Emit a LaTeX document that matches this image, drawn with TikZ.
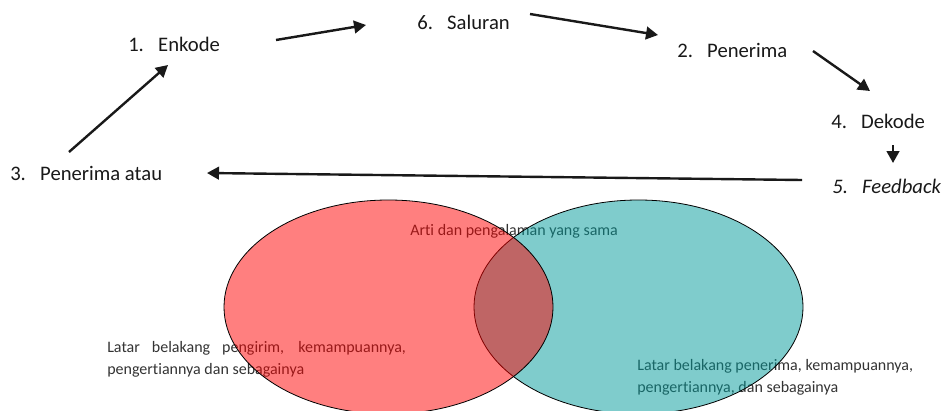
\documentclass[tikz,border=0pt]{standalone}
\usepackage{fontspec}
\setmainfont{Carlito}[Ligatures=NoCommon]
\usetikzlibrary{arrows.meta}

\definecolor{venred}{RGB}{255,0,0}
\definecolor{venteal}{RGB}{0,153,153}
\newcommand{\numitem}[2]{\makebox[1.45em][l]{#1}#2}

\begin{document}
\begin{tikzpicture}[x=0.75pt,y=-0.75pt,
    lbl/.style={anchor=base west,inner sep=0pt,font=\fontsize{15.5}{18}\selectfont,text=black!90},
    note/.style={anchor=base west,inner sep=0pt,font=\fontsize{12}{16.5}\selectfont,text=black!80},
    arr/.style={-{Triangle[length=9pt,width=9.5pt]},line width=1.8pt,draw=black!90},
    venn/.style={draw=black,line width=0.6pt,fill opacity=0.5}]
  \useasboundingbox (0,0) rectangle (944,410);

  \node[lbl] (enkode) at (128,52) {\numitem{1.}{Enkode}};
  \node[lbl] (saluran) at (417,30) {\numitem{6.}{Saluran}};
  \node[lbl] (penerima) at (677,58) {\numitem{2.}{Penerima}};
  \node[lbl] (dekode) at (831,128) {\numitem{4.}{Dekode}};
  \node[lbl] (feedback) at (832,193) {\itshape\numitem{5.}{Feedback}};
  \node[lbl] (penerimaatau) at (10,180) {\numitem{3.}{Penerima atau}};

  \draw[arr] ([shift={(148,-12)}]enkode.base west) -- ([shift={(-51,-5)}]saluran.base west);
  \draw[arr] ([shift={(113,-16)}]saluran.base west) -- ([shift={(-19,-23)}]penerima.base west);
  \draw[arr] ([shift={(136,-7)}]penerima.base west) -- ([shift={(39,-37)}]dekode.base west);
  \draw[arr] ([shift={(62,17)}]dekode.base west) -- ([shift={(61,-30)}]feedback.base west);
  \draw[arr] ([shift={(-30,-13)}]feedback.base west) -- ([shift={(197,-7)}]penerimaatau.base west);
  \draw[arr] ([shift={(59,-28)}]penerimaatau.base west) -- ([shift={(40,13)}]enkode.base west);

  \node[note] (arti) at (410,235) {Arti dan pengalaman yang sama};
  \node[note,text width=224pt,align=justify] (pengirim) at (107,352)
    {Latar belakang pengirim, kemampuannya,\linebreak pengertiannya dan sebagainya};
  \node[note,text width=230pt,align=flush left] (penerimatxt) at (637,370)
    {Latar belakang penerima, kemampuannya,\\ pengertiannya, dan sebagainya};

  \path[venn,fill=venteal] (638.5,307) ellipse [x radius=164.5,y radius=107];
  \path[venn,fill=venred] (388.5,307) ellipse [x radius=164.5,y radius=107];
\end{tikzpicture}
\end{document}
